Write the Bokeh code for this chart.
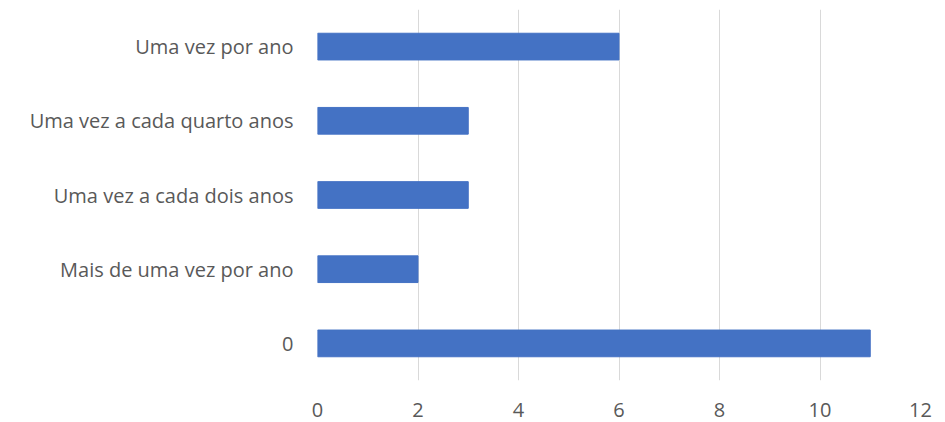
from bokeh.plotting import figure
from bokeh.embed import file_html
from bokeh.resources import INLINE
from bokeh.models import ColumnDataSource, FixedTicker

categories = ["0", "Mais de uma vez por ano", "Uma vez a cada dois anos",
              "Uma vez a cada quarto anos", "Uma vez por ano"]
values = [11, 2, 3, 3, 6]
x_ticks = [0, 2, 4, 6, 8, 10, 12]

src = ColumnDataSource(dict(cat=categories, val=values))

p = figure(y_range=categories, x_range=(0, 12), width=945, height=422,
           output_backend="svg", toolbar_location=None,
           min_border_left=317, min_border_right=25, min_border_top=9, min_border_bottom=42)
p.y_range.range_padding = 0
p.hbar(y="cat", right="val", left=0, height=0.36, source=src, color="#4472C4")

p.outline_line_color = None
p.ygrid.grid_line_color = None
p.xgrid.grid_line_color = "#D9D9D9"
p.xgrid.grid_line_width = 1
p.xaxis.ticker = FixedTicker(ticks=x_ticks)
for ax in (p.xaxis, p.yaxis):
    ax.axis_line_color = None
    ax.major_tick_line_color = None
    ax.minor_tick_line_color = None
    ax.major_label_text_font = "Open Sans"
    ax.major_label_text_font_size = "20px"
    ax.major_label_text_color = "#595959"
p.xaxis.major_label_standoff = 16
p.yaxis.major_label_standoff = 18

open("out.html", "w").write(file_html(p, INLINE))
